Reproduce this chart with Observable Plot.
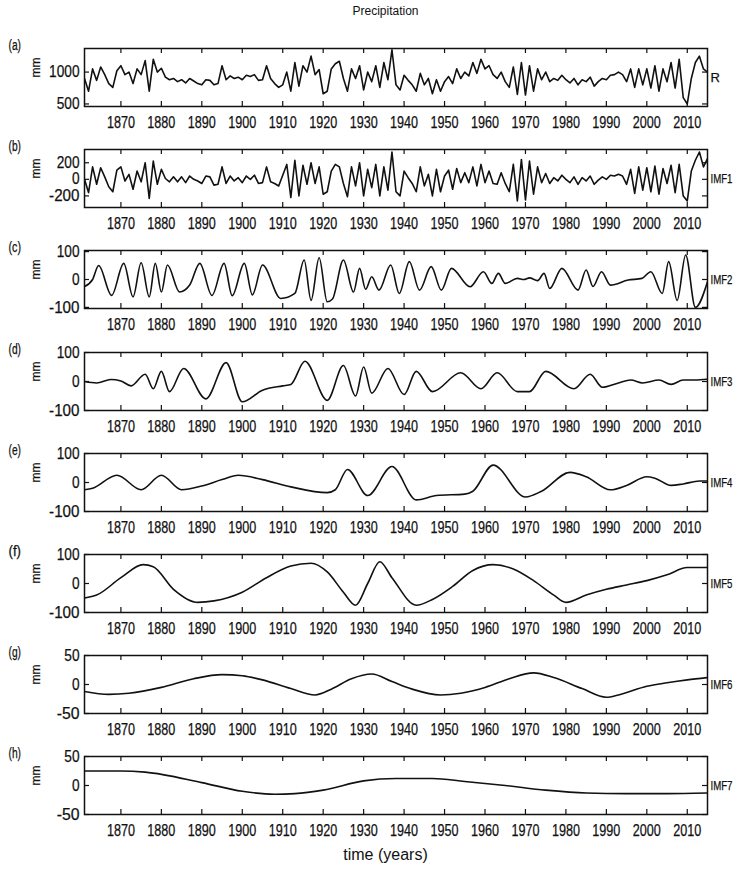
<!DOCTYPE html>
<html>
<head>
<meta charset="utf-8">
<script src="https://cdn.jsdelivr.net/npm/d3@7"></script>
<script src="https://cdn.jsdelivr.net/npm/@observablehq/plot@0.6"></script>
<style>
  html, body { margin: 0; padding: 0; background: #fff; }
  #wrap { position: relative; width: 741px; height: 883px; background: #fff; overflow: hidden;
          font-family: "Liberation Sans", Arial, sans-serif; color: #111; }
  .title { position: absolute; top: 4px; left: 0; width: 771px; text-align: center; font-size: 12px; }
  .xlabel { position: absolute; top: 846px; left: 0; width: 771px; text-align: center; font-size: 16px; }
  .panel { position: absolute; left: 0; }
  .panel text { stroke: #111; stroke-width: 0.25px; }
</style>
</head>
<body>
<div id="wrap">
  <div class="title">Precipitation</div>
  <div class="xlabel">time (years)</div>
</div>
<script>
// ---------------- data ----------------
const startYear = 1861;
const xTicks = [1870, 1880, 1890, 1900, 1910, 1920, 1930, 1940, 1950, 1960, 1970, 1980, 1990, 2000, 2010];

// (a) annual precipitation R (mm), 1861..2015
const R = [
  900, 700, 1050, 870, 1080, 960, 820, 760, 1020, 1100,
  960, 1000, 820, 1050, 960, 1180, 700, 1200, 1000, 1060,
  920, 880, 900, 850, 880, 830, 900, 860, 820, 800,
  880, 870, 800, 820, 1100, 880, 940, 900, 920, 880,
  950, 930, 960, 870, 880, 1100, 900, 820, 760, 800,
  1000, 700, 1150, 780, 1100, 1000, 1250, 960, 1040, 660,
  700, 1050, 1130, 1170, 900, 700, 1050, 900, 1100, 720,
  1000, 850, 1100, 760, 1150, 880, 1350, 800, 720, 950,
  870, 800, 700, 980, 800, 900, 660, 880, 700, 850,
  930, 820, 1050, 900, 1000, 940, 1150, 980, 1200, 1050,
  1100, 960, 900, 1000, 850, 760, 1080, 650, 1150, 640,
  1100, 700, 1050, 880, 1000, 850, 900, 870, 950, 880,
  830, 900, 800, 880, 850, 920, 780, 850, 900, 880,
  950, 960, 1000, 960, 850, 1050, 760, 1050, 800, 1050,
  750, 1100, 700, 1050, 850, 1150, 750, 1200, 600, 500,
  900, 1150, 1250, 1050, 1000
];

// (b) IMF1 (mm), 1861..2015
const IMF1 = [
  0, -160, 150, -60, 140, 30, -90, -150, 110, 150,
  -20, 60, -120, 100, -30, 200, -230, 220, -60, 120,
  10, -30, 30, -30, 30, -40, 40, 0, -20, -50,
  40, 30, -70, -60, 150, -50, 40, -20, 20, -40,
  40, 0, 50, -50, -40, 150, -30, -50, -80, 50,
  180, -220, 230, -200, 170, -60, 200, -50, 150, -180,
  -150, 100, 180, 150, -50, -210, 150, -80, 200, -200,
  120, -100, 180, -200, 150, -130, 330, -150, -200, 100,
  20, -50, -150, 150, -80, 60, -200, 120, -150, 40,
  110, -120, 130, -40, 80, -40, 150, -80, 180, -40,
  100, -50, -60, 80, -50, -150, 180, -260, 240, -250,
  220, -180, 150, -40, 70, -50, 20, -20, 50, 0,
  -40, 30, -60, 20, -20, 40, -60, -10, 30, 0,
  50, 40, 60, 40, -60, 120, -170, 150, -130, 140,
  -150, 160, -180, 130, -50, 170, -160, 180, -200, -260,
  100, 230, 330, 150, 250
];

// (c) IMF2 key points
const imf2Years  = [1861, 1863, 1864.5, 1867.7, 1870.7, 1873, 1875, 1877, 1878.5, 1880, 1881.5, 1884.5, 1887, 1889.5, 1892.5, 1895.5, 1897.5, 1900.5, 1902.5, 1905, 1909.5, 1913, 1915.3, 1917, 1919, 1921, 1922.3, 1925, 1927.5, 1929, 1930.5, 1932, 1933.8, 1936.7, 1938.8, 1941.3, 1943.8, 1946.7, 1949.2, 1951.7, 1956.3, 1959.6, 1961.7, 1963.3, 1965, 1968, 1969.6, 1971, 1973, 1974.6, 1976, 1979, 1983, 1985, 1986.7, 1988.8, 1991, 1995.4, 1998.8, 2001, 2003.8, 2005.4, 2007.5, 2009.6, 2012, 2015];
const imf2Values = [-25, 0, 50, -57, 58, -62, 60, -62, 58, -45, 52, -45, -20, 58, -57, 58, -58, 58, -55, 52, -68, -50, 70, -75, 78, -80, -70, 70, -45, 40, -35, 10, -38, 52, -50, 64, -38, 46, -38, 40, -26, 28, -14, 22, -14, 4, 0, 6, -4, 22, -32, 40, -38, 34, -25, 28, -20, -2, 4, 28, -50, 64, -75, 88, -100, -8];

// (d) IMF3 key points
const imf3Years  = [1861, 1864, 1867.5, 1870, 1872.5, 1876, 1878, 1880, 1882, 1885.5, 1891, 1896, 1900, 1905, 1910, 1912, 1915.5, 1921, 1925, 1928, 1930, 1932, 1936, 1940, 1943, 1947, 1954, 1959, 1963, 1968, 1971, 1975, 1982, 1986, 1989, 1993, 1996, 1999, 2003, 2006, 2009, 2012, 2015];
const imf3Values = [0, -5, 7, 2, -15, 25, -25, 35, -35, 45, -60, 65, -70, -30, -15, -10, 70, -65, 55, -50, 50, -40, 45, -45, 35, -35, 30, -25, 30, -35, -35, 35, -25, 25, -20, -5, 5, -5, 5, -10, 5, 5, 8];

// (e) IMF4 key points
const imf4Years  = [1861, 1863, 1869, 1875, 1880, 1885, 1890, 1895, 1899, 1905, 1912, 1921, 1923, 1926, 1931, 1937, 1943, 1948, 1955, 1957, 1962, 1970, 1974, 1981, 1985, 1991, 1995, 2000, 2002, 2006, 2009, 2013, 2015];
const imf4Values = [-25, -20, 25, -25, 25, -25, -12, 10, 25, 10, -15, -35, -25, 45, -45, 55, -60, -45, -40, -30, 60, -50, -30, 35, 20, -25, -10, 20, 15, -10, -5, 5, 5];

// (f) IMF5 key points
const imf5Years  = [1861, 1864, 1870, 1875.5, 1878, 1883, 1889, 1893, 1900, 1906, 1912, 1917, 1921, 1925, 1928, 1931, 1934, 1937, 1943, 1947, 1952, 1957, 1962, 1967, 1972, 1977, 1980, 1985, 1990, 1995, 2000, 2005, 2010, 2015];
const imf5Values = [-50, -40, 20, 65, 58, -20, -65, -60, -30, 20, 60, 70, 40, -30, -75, 0, 75, 20, -75, -55, -10, 45, 65, 50, 10, -40, -65, -40, -20, -5, 10, 30, 55, 55];

// (g) IMF6 key points
const imf6Years  = [1861, 1867, 1872, 1880, 1888, 1895, 1900, 1905, 1912, 1918, 1922, 1927, 1932, 1937, 1942, 1949, 1954, 1960, 1966, 1972, 1977, 1984, 1990, 1993, 2000, 2005, 2010, 2015];
const imf6Values = [-12, -17, -15, -5, 10, 17, 15, 8, -7, -18, -8, 10, 18, 5, -8, -18, -15, -5, 10, 20, 12, -7, -22, -18, -3, 3, 8, 12];

// (h) IMF7 key points
const imf7Years  = [1861, 1870, 1876, 1890, 1900, 1908, 1913, 1920, 1930, 1938, 1947, 1955, 1965, 1975, 1985, 1995, 2005, 2015];
const imf7Values = [25, 25, 23, 5, -10, -15, -14, -8, 8, 12, 12, 7, 0, -8, -13, -14, -14, -13];

// ---------------- drawing ----------------
const annual = (vals) => vals.map((v, i) => ({year: startYear + i, value: v}));
const keyed = (ys, vs) => ys.map((y, i) => ({year: y, value: vs[i]}));

const panels = [
  {letter: "(a)", name: "R",    data: annual(R),    yDomain: [460, 1370], yTicks: [500, 1000], curve: "linear"},
  {letter: "(b)", name: "IMF1", data: annual(IMF1), yDomain: [-340, 360], yTicks: [-200, 0, 200], curve: "linear"},
  {letter: "(c)", name: "IMF2", data: keyed(imf2Years, imf2Values), yDomain: [-104, 104], yTicks: [-100, 0, 100], curve: "monotone-x"},
  {letter: "(d)", name: "IMF3", data: keyed(imf3Years, imf3Values), yDomain: [-100, 100], yTicks: [-100, 0, 100], curve: "monotone-x"},
  {letter: "(e)", name: "IMF4", data: keyed(imf4Years, imf4Values), yDomain: [-100, 100], yTicks: [-100, 0, 100], curve: "monotone-x"},
  {letter: "(f)", name: "IMF5", data: keyed(imf5Years, imf5Values), yDomain: [-100, 100], yTicks: [-100, 0, 100], curve: "monotone-x"},
  {letter: "(g)", name: "IMF6", data: keyed(imf6Years, imf6Values), yDomain: [-50, 50], yTicks: [-50, 0, 50], curve: "monotone-x"},
  {letter: "(h)", name: "IMF7", data: keyed(imf7Years, imf7Values), yDomain: [-50, 50], yTicks: [-50, 0, 50], curve: "monotone-x"}
];

const W = 741, H = 101, mL = 84, mR = 34, mT = 8, mB = 35;
const innerW = W - mL - mR, innerH = H - mT - mB;
const ink = "#111";
const wrap = document.getElementById("wrap");

// emulate the narrow face of the original figure
function squeezeText(t, width) {
  t.setAttribute("textLength", width.toFixed(1));
  t.setAttribute("lengthAdjust", "spacingAndGlyphs");
}

panels.forEach((p, i) => {
  const chart = Plot.plot({
    width: W, height: H,
    marginLeft: mL, marginRight: mR, marginTop: mT, marginBottom: mB,
    style: {background: "transparent", color: ink, fontSize: "16px", overflow: "visible",
            fontFamily: '"Liberation Sans", Arial, sans-serif'},
    x: {domain: [startYear, 2015]},
    y: {domain: p.yDomain},
    marks: [
      Plot.axisX({ticks: xTicks, tickSize: 0, tickPadding: 10, tickFormat: d => `${d}`, label: null, fontSize: 16}),
      Plot.axisY({ticks: p.yTicks, tickSize: 0, tickPadding: 5, tickFormat: d => `${d}`, label: null, fontSize: 16}),
      Plot.tickX(xTicks, {x: d => d, insetTop: innerH - 5, stroke: ink, strokeWidth: 1.2}),
      Plot.tickX(xTicks, {x: d => d, insetBottom: innerH - 5, stroke: ink, strokeWidth: 1.2}),
      Plot.tickY(p.yTicks, {y: d => d, insetRight: innerW - 5, stroke: ink, strokeWidth: 1.2}),
      Plot.tickY(p.yTicks, {y: d => d, insetLeft: innerW - 5, stroke: ink, strokeWidth: 1.2}),
      Plot.line(p.data, {x: "year", y: "value", curve: p.curve, stroke: ink, strokeWidth: 1.6, clip: true}),
      Plot.frame({stroke: ink, strokeWidth: 1.5}),
      Plot.text([p.letter], {text: d => d, frameAnchor: "top-left", dx: -76, dy: -8, fontSize: 14, fill: ink}),
      Plot.text(["mm"], {text: d => d, frameAnchor: "left", dx: -48, rotate: -90, fontSize: 12, fill: ink}),
      Plot.text([p.name], {text: d => d, frameAnchor: "right", dx: 3, textAnchor: "start", fontSize: 13, fill: ink})
    ]
  });
  chart.querySelectorAll("text").forEach(t => {
    const s = t.textContent;
    if (/^-?\d+$/.test(s)) squeezeText(t, s.length * (+s >= 1800 ? 7.0 : 7.6));
    else if (s === p.letter) squeezeText(t, 12.5);
    else if (s === p.name && s.length > 1) squeezeText(t, s.length * 5.5);
  });
  chart.classList.add("panel");
  chart.style.top = `${40 + Math.round(i * 101.2)}px`;
  wrap.appendChild(chart);
});
</script>
</body>
</html>
